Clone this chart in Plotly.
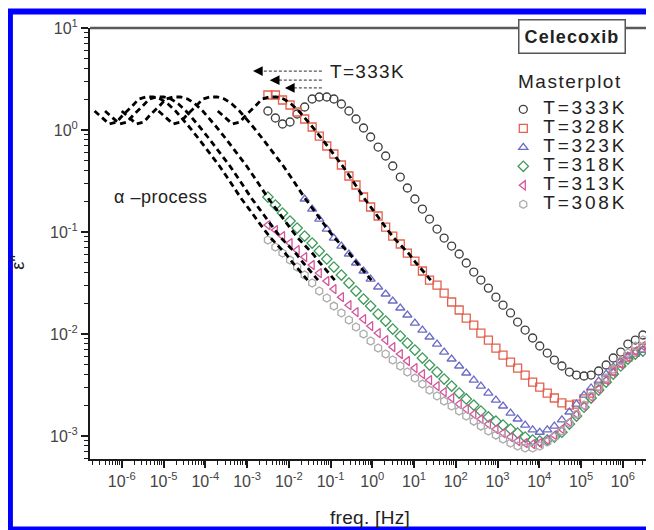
import plotly.graph_objects as go

# ---------------- data ----------------
log_freq = [-2.50, -2.32, -2.15, -1.97, -1.80, -1.62, -1.44, -1.27, -1.09, -0.92,
            -0.74, -0.56, -0.39, -0.21, -0.04, 0.14, 0.32, 0.49, 0.67, 0.84,
            1.02, 1.20, 1.37, 1.55, 1.72, 1.90, 2.08, 2.25, 2.43, 2.60,
            2.78, 2.96, 3.13, 3.31, 3.48, 3.66, 3.84, 4.01, 4.19, 4.36,
            4.54, 4.72, 4.89, 5.07, 5.24, 5.42, 5.60, 5.77, 5.95, 6.12,
            6.30, 6.48]

eps_333 = [1.536, 1.311, 1.145, 1.198, 1.435, 1.681, 2.014, 2.107, 2.107, 2.014,
           1.798, 1.536, 1.282, 1.046, 0.854, 0.681, 0.556, 0.444, 0.346, 0.270,
           0.2107, 0.168, 0.134, 0.107, 0.0873, 0.0729, 0.0609, 0.0497, 0.0405, 0.0338,
           0.0282, 0.0230, 0.0192, 0.0161, 0.0131, 0.01094, 0.00914, 0.00763, 0.00651, 0.00556,
           0.00486, 0.00424, 0.00396, 0.00388, 0.00396, 0.00434, 0.00497, 0.00582, 0.00666, 0.00798,
           0.00873, 0.00978]

eps_328 = [2.203, 2.203, 1.969, 1.758, 1.501, 1.282, 1.070, 0.873, 0.697, 0.582,
           0.454, 0.354, 0.289, 0.2204, 0.176, 0.1435, 0.1119, 0.0913, 0.0763, 0.0622,
           0.0519, 0.0415, 0.0338, 0.0302, 0.0252, 0.0206, 0.0172, 0.01435, 0.01225, 0.01023,
           0.00873, 0.00729, 0.00622, 0.00531, 0.00464, 0.00396, 0.00338, 0.00302, 0.00264, 0.00236,
           0.00211, 0.00201, 0.00206, 0.00231, 0.00264, 0.00309, 0.00362, 0.00434, 0.00520, 0.00595,
           0.00666, 0.00729]

# 323 K starts at the 6th frequency of the grid
eps_323 = [0.2107, 0.168, 0.134, 0.107, 0.0873, 0.0729, 0.0609, 0.0497, 0.0415, 0.0346,
           0.0289, 0.0247, 0.02107, 0.0180, 0.01536, 0.01282, 0.01094, 0.00935, 0.00798, 0.00666,
           0.00569, 0.00486, 0.00415, 0.00354, 0.00309, 0.00264, 0.00225, 0.00197, 0.00168, 0.00147,
           0.00128, 0.00115, 0.00109, 0.00115, 0.00125, 0.00144, 0.00172, 0.00206, 0.00252, 0.00296,
           0.00346, 0.00405, 0.00475, 0.00544, 0.00609, 0.00666, 0.00697]

eps_318 = [0.2204, 0.1839, 0.1536, 0.1282, 0.1094, 0.0913, 0.0780, 0.0651, 0.0544, 0.0454,
           0.0379, 0.0316, 0.0264, 0.02204, 0.0188, 0.0157, 0.0134, 0.01119, 0.00956, 0.00816,
           0.00697, 0.00582, 0.00497, 0.00424, 0.00362, 0.00309, 0.00264, 0.00231, 0.00201, 0.00176,
           0.00154, 0.00140, 0.00128, 0.00117, 0.00107, 0.000978, 0.000914, 0.000893, 0.000914, 0.000978,
           0.00109, 0.00131, 0.00157, 0.00192, 0.00236, 0.00282, 0.00338, 0.00405, 0.00486, 0.00569,
           0.00637, 0.00681]

eps_313 = [0.1171, 0.1046, 0.0913, 0.0780, 0.0666, 0.0569, 0.0475, 0.0396, 0.0331, 0.0276,
           0.0230, 0.0192, 0.01643, 0.01403, 0.01198, 0.01023, 0.00873, 0.00746, 0.00637, 0.00544,
           0.00464, 0.00405, 0.00354, 0.00309, 0.00270, 0.00236, 0.00206, 0.00184, 0.00164, 0.00147,
           0.00131, 0.00117, 0.00107, 0.000978, 0.000893, 0.000854, 0.000835, 0.000854, 0.000914, 0.00102,
           0.00117, 0.00137, 0.00164, 0.00197, 0.00241, 0.00289, 0.00354, 0.00424, 0.00508, 0.00595,
           0.00681, 0.00763]

eps_308 = [0.0835, 0.0713, 0.0622, 0.0531, 0.0454, 0.0379, 0.0316, 0.0264, 0.02254, 0.0188,
           0.0161, 0.01372, 0.01171, 0.0100, 0.00854, 0.00729, 0.00637, 0.00556, 0.00486, 0.00424,
           0.00370, 0.00323, 0.00282, 0.00247, 0.00220, 0.00197, 0.00176, 0.00157, 0.00140, 0.00125,
           0.00112, 0.00102, 0.000935, 0.000854, 0.000798, 0.000763, 0.000763, 0.000798, 0.000873, 0.000978,
           0.00112, 0.00134, 0.00164, 0.00201, 0.00247, 0.00302, 0.00370, 0.00454, 0.00544, 0.00651,
           0.00763, 0.00873]

# masterplot: the 333 K curve (first 30 points) shifted to lower frequency
master_points = 30
temps_shifted = ["328K", "323K", "318K", "313K", "308K"]
shift_decades = [1.20, 2.62, 3.50, 3.90, 4.15]

x_tick_exp = [-6, -5, -4, -3, -2, -1, 0, 1, 2, 3, 4, 5, 6]
y_tick_exp = [-3, -2, -1, 0, 1]

# ---------------- figure ----------------
FONT = "Arial, Liberation Sans, Helvetica, sans-serif"
freq = [10 ** v for v in log_freq]


def wide(text, size, spacing):
    return '<span style="font-size:%dpx;letter-spacing:%.1fpx">%s</span>' % (size, spacing, text)


series = [
    ("T=333K", freq, eps_333, "circle-open", "#3d3d3d"),
    ("T=328K", freq, eps_328, "square-open", "#e2604e"),
    ("T=323K", freq[5:], eps_323, "triangle-up-open", "#6b6bc6"),
    ("T=318K", freq, eps_318, "diamond-open", "#3f9a5c"),
    ("T=313K", freq, eps_313, "triangle-left-open", "#d4559c"),
    ("T=308K", freq, eps_308, "hexagon-open", "#ababab"),
]

fig = go.Figure()
for name, fx, fy, sym, col in series:
    fig.add_trace(go.Scatter(
        x=fx, y=fy, mode="markers",
        name=wide(name, 19, 2.8),
        marker=dict(symbol=sym, size=8, color=col, line=dict(color=col, width=1.3)),
    ))

for t, s in zip(temps_shifted, shift_decades):
    fig.add_trace(go.Scatter(
        x=[10 ** (v - s) for v in log_freq[:master_points]],
        y=eps_333[:master_points],
        mode="lines", showlegend=False, hoverinfo="skip",
        line=dict(color="black", width=2.8, dash="6px,4px"),
    ))

minor_vals = [m * 10 ** e for e in range(-7, 7) for m in range(2, 10)]
minor_y = [m * 10 ** e for e in range(-4, 1) for m in range(2, 10)]

axis_common = dict(
    type="log", showline=True, linecolor="#1a1a1a", linewidth=2, mirror=False,
    ticks="outside", ticklen=7, tickwidth=1.6, tickcolor="#1a1a1a",
    showgrid=False, zeroline=False,
    tickfont=dict(family=FONT, size=16, color="#444"),
)

# the page body has an 8px margin, so the figure is 8px smaller and sits at (8, 8)
fig.update_layout(
    width=646, height=522,
    margin=dict(l=82, r=4, t=20, b=71),
    paper_bgcolor="white", plot_bgcolor="white",
    font=dict(family=FONT, color="#222"),
    xaxis=dict(**axis_common, range=[-6.76, 6.65],
               tickvals=[10 ** e for e in x_tick_exp],
               ticktext=["10<sup>%d</sup>" % e for e in x_tick_exp],
               minor=dict(tickvals=minor_vals, ticks="outside", ticklen=4,
                          tickwidth=1.2, tickcolor="#1a1a1a", showgrid=False)),
    yaxis=dict(**axis_common, range=[-3.225, 1],
               tickvals=[10 ** e for e in y_tick_exp],
               ticktext=["10<sup>%d</sup>" % e for e in y_tick_exp],
               minor=dict(tickvals=minor_y, ticks="outside", ticklen=4,
                          tickwidth=1.2, tickcolor="#1a1a1a", showgrid=False)),
    legend=dict(x=0.738, y=0.845, xanchor="left", yanchor="top",
                font=dict(family=FONT, size=12, color="#222"),
                bgcolor="rgba(0,0,0,0)", tracegroupgap=0),
    showlegend=True,
)

annotations = [
    dict(text=wide("T=333K", 19, 1.3), x=0.495, y=0.898, font=dict(size=19)),
    dict(text=wide("\u03b1 \u2013process", 18, 0.5), x=0.039, y=0.608, xanchor="left", font=dict(size=18)),
    dict(text=wide("Masterplot", 19, 1.5), x=0.761, y=0.875, xanchor="left", font=dict(size=19)),
    dict(text="<b>" + wide("Celecoxib", 18, 1.1) + "</b>", x=0.861, y=0.981, font=dict(size=18),
         bordercolor="#555", borderwidth=1.5, bgcolor="white", width=101, height=28, borderpad=2),
    dict(text=wide("freq. [Hz]", 19, 0.3), x=0.5, y=-0.135, font=dict(size=19)),
    dict(text="\u03b5''", x=-0.129, y=0.457, textangle=-90, font=dict(size=18)),
]
for a in annotations:
    a.setdefault("xanchor", "center")
    a.update(xref="paper", yref="paper", showarrow=False, yanchor="middle")
    a["font"].update(family=FONT, color="#222")
    fig.add_annotation(**a)

# shift arrows (dashed shafts + filled heads)
arrow_heads = [(0.291, 0.900), (0.321, 0.879), (0.348, 0.861)]
for hx, hy in arrow_heads:
    fig.add_shape(type="line", xref="paper", yref="paper", x0=0.414, x1=hx + 0.012,
                  y0=hy, y1=hy, line=dict(color="#555", width=1.2, dash="3px,2px"))
    fig.add_annotation(xref="paper", yref="paper", x=hx, y=hy, ax=10, ay=0, text="",
                       showarrow=True, arrowhead=2, arrowsize=1.3, arrowwidth=1.5,
                       arrowcolor="black")

# grey top and right frame lines
fig.add_shape(type="line", xref="paper", yref="paper", x0=0, x1=1, y0=1, y1=1,
              line=dict(color="#5a5a5a", width=2.5), layer="above")
fig.add_shape(type="line", xref="paper", yref="paper", x0=1, x1=1, y0=0, y1=1,
              line=dict(color="#5a5a5a", width=2), layer="above")

# blue frame around the figure
fig.add_shape(type="rect", xref="paper", yref="paper",
              x0=-0.143, x1=1.02, y0=-0.1636, y1=1.038,
              line=dict(color="#0000ff", width=6), fillcolor="rgba(0,0,0,0)", layer="above")

fig.write_html("out.html")
